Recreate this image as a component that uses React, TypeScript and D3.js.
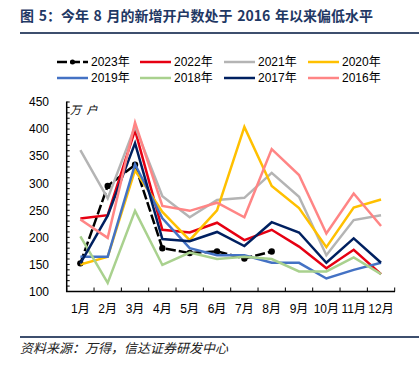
import React from "react";
import * as d3 from "d3";

const months = ["1月", "2月", "3月", "4月", "5月", "6月", "7月", "8月", "9月", "10月", "11月", "12月"];
const yTicks = [100, 150, 200, 250, 300, 350, 400, 450];

const s2023 = [152, 295, 334, 180, 171, 174, 161, 174];
const s2022 = [235, 241, 398, 214, 209, 227, 195, 214, 183, 143, 177, 132];
const s2021 = [361, 272, 405, 276, 237, 269, 273, 319, 275, 167, 232, 241];
const s2020 = [150, 164, 324, 247, 195, 250, 404, 295, 254, 182, 255, 270];
const s2019 = [164, 164, 335, 235, 180, 167, 167, 153, 153, 124, 140, 153];
const s2018 = [202, 116, 249, 149, 172, 160, 164, 160, 137, 137, 163, 132];
const s2017 = [152, 240, 374, 197, 193, 210, 184, 228, 209, 153, 198, 153];
const s2016 = [233, 199, 412, 258, 249, 264, 237, 363, 315, 207, 281, 221];

const seriesNames = ["2023年", "2022年", "2021年", "2020年", "2019年", "2018年", "2017年", "2016年"];
const seriesValues = [s2023, s2022, s2021, s2020, s2019, s2018, s2017, s2016];
const seriesColors = ["#000000", "#e60012", "#b4b4b4", "#ffc000", "#4472c4", "#a9d18e", "#002060", "#ff8585"];

const FONT = "Arial, 'Liberation Sans', 'Noto Sans CJK SC', sans-serif";
const CJK = "'Noto Sans CJK SC', sans-serif";

export default function App() {
  const x = d3.scaleBand<string>().domain(months).range([66.7, 394.7]);
  const y = d3.scaleLinear().domain([100, 450]).range([291.5, 102]);
  const cx = (i: number) => (x(months[i]) as number) + x.bandwidth() / 2;
  const line = d3
    .line<number>()
    .x((_, i) => cx(i))
    .y((d) => y(d));

  const minor = d3.range(100, 451, 10);
  const boundaries = d3.range(0, 13).map((i) => 66.7 + i * x.bandwidth());

  const drawOrder = [0, 1, 2, 3, 4, 5, 6, 7];
  const legendCols = [57, 140, 224, 308];

  return (
    <svg
      width={419}
      height={365}
      style={{ position: "absolute", left: 0, top: 0, background: "#fff" }}
      fontFamily={FONT}
    >
      <text x={20} y={21} fontSize={14} fontWeight="bold" fill="#1f3864" fontFamily={CJK}>
        {"图\u20045：今年\u20048\u2004月的新增开户数处于\u20042016\u2004年以来偏低水平"}
      </text>
      <rect x={20} y={32} width={399} height={2} fill="#3d4f6e" />

      {seriesNames.map((name, i) => {
        const col = i % 4;
        const row = Math.floor(i / 4);
        const lx = legendCols[col];
        const ly = 62 + row * 16;
        return (
          <g key={name}>
            <line
              x1={lx}
              x2={lx + 31}
              y1={ly}
              y2={ly}
              stroke={seriesColors[i]}
              strokeWidth={2.5}
              strokeDasharray={i === 0 ? "10,3" : undefined}
            />
            {i === 0 && <circle cx={lx + 15.5} cy={ly} r={2.5} fill="#000" />}
            <text x={lx + 34} y={ly + 4.3} fontSize={12} fill="#000">
              {name}
            </text>
          </g>
        );
      })}

      <text x={70} y={114} fontSize={11} fontStyle="italic" fill="#000" fontFamily={CJK}>
        {"万\u2002户"}
      </text>

      {yTicks.map((t) => (
        <text key={t} x={49} y={y(t) + 4.3} fontSize={12} textAnchor="end" fill="#000">
          {t}
        </text>
      ))}
      {minor.map((t) => (
        <line key={t} x1={66.7} x2={69.7} y1={y(t)} y2={y(t)} stroke="#000" strokeWidth={1} />
      ))}
      <line x1={66.7} x2={66.7} y1={101.5} y2={292} stroke="#000" strokeWidth={1.5} />
      <line x1={66} x2={395} y1={291.5} y2={291.5} stroke="#000" strokeWidth={1.5} />
      {boundaries.map((bx, i) => (
        <line key={i} x1={bx} x2={bx} y1={291.5} y2={287.5} stroke="#000" strokeWidth={1} />
      ))}
      {months.map((m, i) => (
        <text key={m} x={cx(i)} y={313} fontSize={12} textAnchor="middle" fill="#000">
          {m}
        </text>
      ))}

      {drawOrder.map((si) => (
        <g key={si}>
          <path
            d={line(seriesValues[si]) as string}
            fill="none"
            stroke={seriesColors[si]}
            strokeWidth={2.5}
            strokeLinejoin="miter"
            strokeDasharray={si === 0 ? "10,3" : undefined}
          />
          {si === 0 &&
            s2023.map((v, i) => <circle key={i} cx={cx(i)} cy={y(v)} r={3.2} fill="#000" />)}
        </g>
      ))}

      <rect x={20} y={336} width={399} height={2} fill="#3d4f6e" />
      <text x={20} y={353} fontSize={13} fontStyle="italic" fill="#222" fontFamily={CJK}>
        资料来源：万得，信达证券研发中心
      </text>
    </svg>
  );
}
